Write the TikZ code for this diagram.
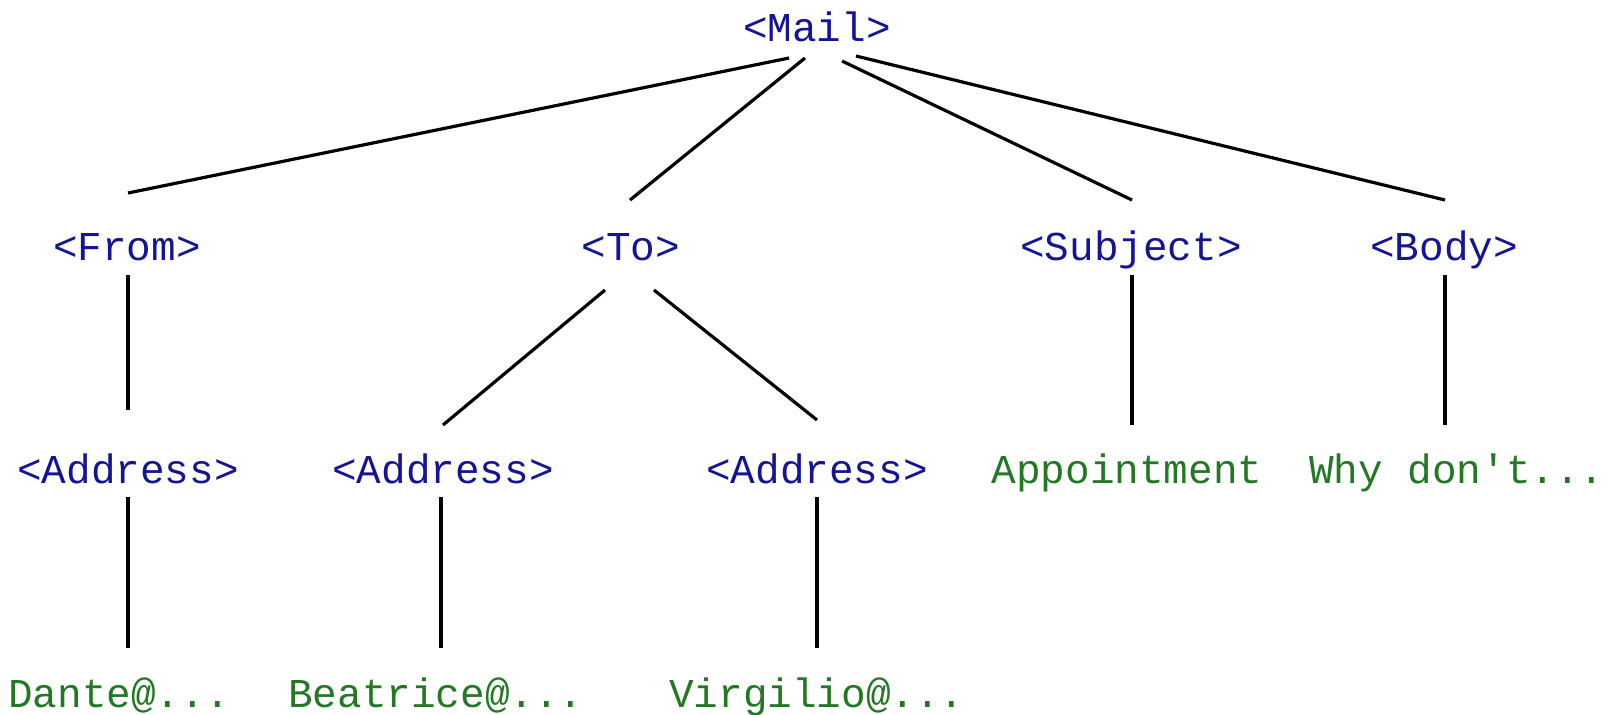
\documentclass[tikz,border=0pt]{standalone}
\usepackage{fontspec}
\setmonofont{Liberation Mono}
\usetikzlibrary{calc}
\definecolor{tagblue}{RGB}{20,20,150}
\definecolor{txtgreen}{RGB}{35,120,35}
\tikzset{
  lbl/.style={inner sep=0pt, anchor=base, font=\ttfamily\fontsize{20.5pt}{24pt}\selectfont},
  tag/.style={lbl, text=tagblue},
  leaf/.style={lbl, text=txtgreen},
  edge/.style={draw=black, line width=1.6pt}
}
\begin{document}
\begin{tikzpicture}[x=0.5pt,y=-0.5pt]
\useasboundingbox (0,0) rectangle (1607,714);
\node[tag]  (mail)  at (817,41)  {<Mail>};
\node[tag]  (from)  at (127,260) {<From>};
\node[tag]  (to)    at (631,260) {<To>};
\node[tag]  (subj)  at (1131,260) {<Subject>};
\node[tag]  (body)  at (1444,260) {<Body>};
\node[tag]  (addrA) at (128,483) {<Address>};
\node[tag]  (addrB) at (443,483) {<Address>};
\node[tag]  (addrC) at (817,483) {<Address>};
\node[leaf] (appt)  at (1127,483) {Appointment};
\node[leaf] (why)   at (1457,483) {Why don't...};
\node[leaf] (dante) at (119,707) {Dante@...};
\node[leaf] (beat)  at (436,707) {Beatrice@...};
\node[leaf] (virg)  at (817,707) {Virgilio@...};
% from Mail
\draw[edge] ($(mail.base)+(-28,17)$) -- ($(from.base)+(1,-67)$);
\draw[edge] ($(mail.base)+(-12,17)$) -- ($(to.base)+(-1,-60)$);
\draw[edge] ($(mail.base)+(25,20)$) -- ($(subj.base)+(1,-60)$);
\draw[edge] ($(mail.base)+(39,15)$) -- ($(body.base)+(1,-60)$);
% second level
\draw[edge] ($(from.base)+(1,15)$) -- ($(addrA.base)+(0,-73)$);
\draw[edge] ($(to.base)+(-26,30)$) -- ($(addrB.base)+(0,-58)$);
\draw[edge] ($(to.base)+(23,30)$) -- ($(addrC.base)+(0,-63)$);
\draw[edge] ($(subj.base)+(1,15)$) -- ($(appt.base)+(5,-58)$);
\draw[edge] ($(body.base)+(1,15)$) -- ($(why.base)+(-12,-58)$);
% third level
\draw[edge] ($(addrA.base)+(0,14)$) -- ($(dante.base)+(9,-59)$);
\draw[edge] ($(addrB.base)+(-2,14)$) -- ($(beat.base)+(5,-59)$);
\draw[edge] ($(addrC.base)+(0,14)$) -- ($(virg.base)+(0,-59)$);
\end{tikzpicture}
\end{document}
